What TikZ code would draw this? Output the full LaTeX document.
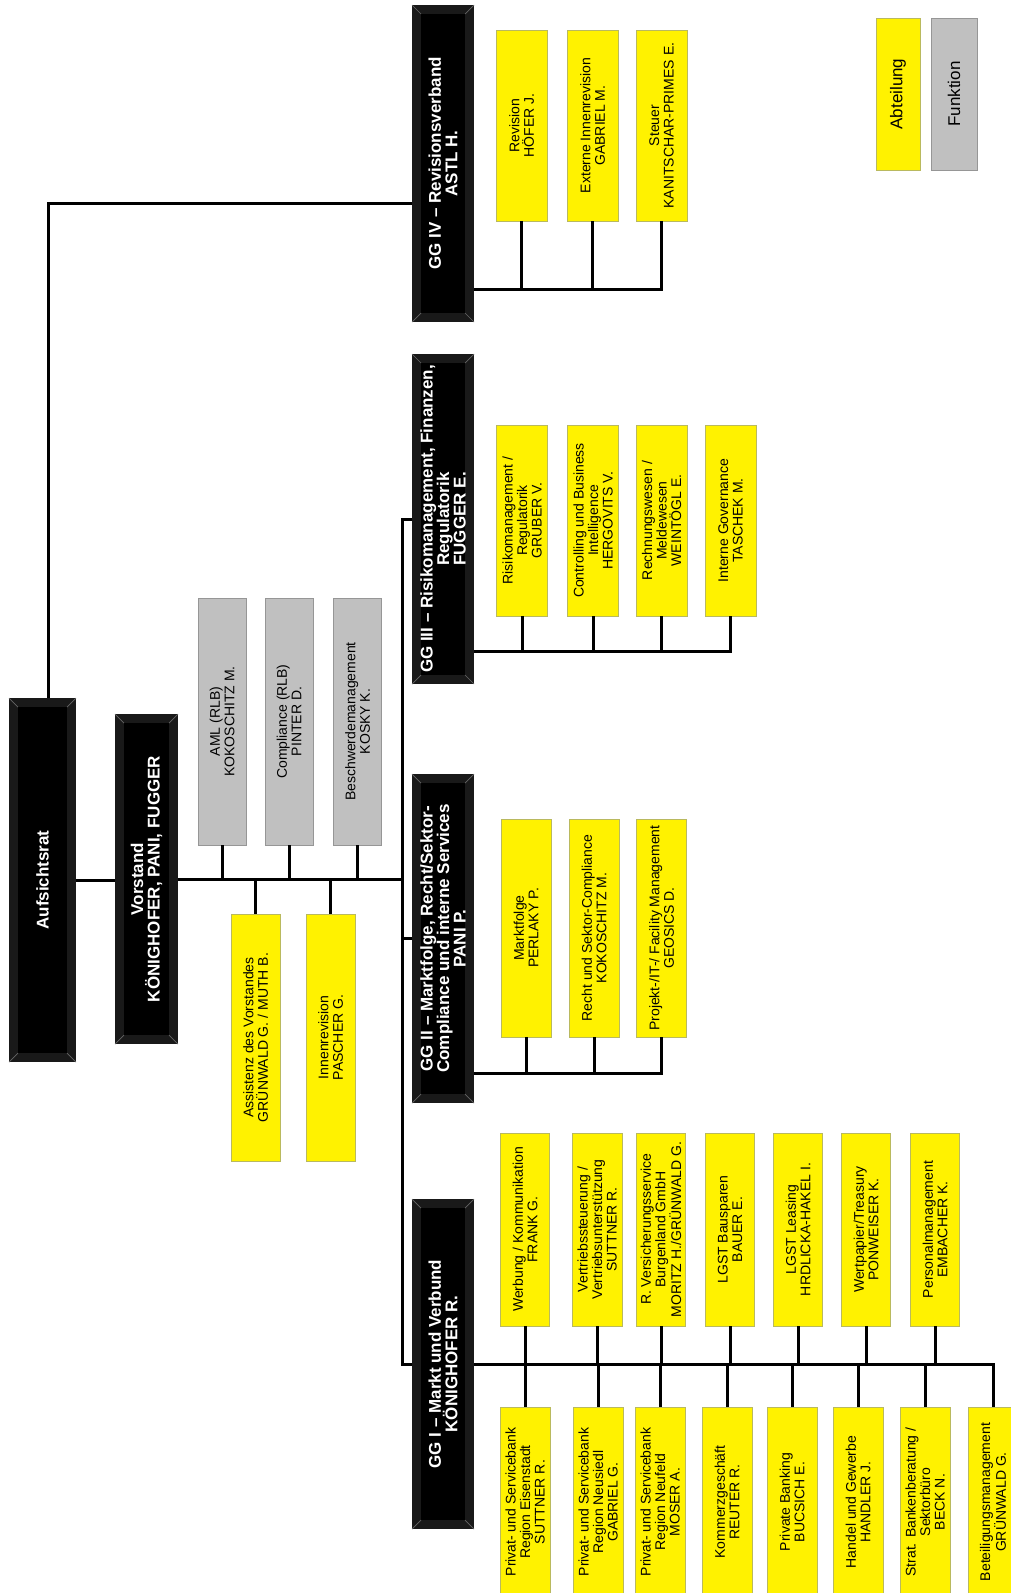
\documentclass[tikz,border=0pt]{standalone}
\usepackage{fontspec}
\setmainfont{Liberation Sans}
\definecolor{abtedge}{RGB}{185,185,95}
\definecolor{fktfill}{RGB}{192,192,192}
\definecolor{fktedge}{RGB}{150,150,150}
\begin{document}
\begin{tikzpicture}[x=1pt,y=-1pt,
  conn/.style={line width=3pt},
  head/.style={rotate=90,fill=black,draw=black!90,line width=9pt,text=white,align=center,inner sep=0pt,
    font=\fontsize{17}{16.5}\selectfont\bfseries},
  bevel/.style={black!60,line width=.7pt},
  abt/.style={rotate=90,fill=yellow,draw=abtedge,line width=.8pt,align=center,inner sep=0pt,
    font=\fontsize{14}{14.5}\selectfont},
  fkt/.style={abt,fill=fktfill,draw=fktedge}]
\useasboundingbox (0,0) rectangle (1011,1593);
\clip (0,0) rectangle (1011,1593);
\node[head,minimum width=355pt,minimum height=58pt] (aufs) at (42.5,880) {Aufsichtsrat};
\node[head,minimum width=321pt,minimum height=54pt] (vorst) at (146.5,879) {Vorstand\\KÖNIGHOFER, PANI, FUGGER};
\node[head,minimum width=308pt,minimum height=53pt] (ggfour) at (443,163.5) {GG IV – Revisionsverband\\ASTL H.};
\node[head,minimum width=321pt,minimum height=53pt] (ggthree) at (443,519) {GG III – Risikomanagement, Finanzen,\\Regulatorik\\FUGGER E.};
\node[head,minimum width=320pt,minimum height=53pt] (ggtwo) at (443,938.5) {GG II – Marktfolge, Recht/Sektor-\\Compliance und interne Services\\PANI P.};
\node[head,minimum width=321pt,minimum height=53pt] (ggone) at (443,1364) {GG I – Markt und Verbund\\KÖNIGHOFER R.};
\foreach \h in {aufs,vorst,ggfour,ggthree,ggtwo,ggone}
  \draw[bevel] (\h.north east) -- ++(9pt,-9pt) (\h.south east) -- ++(-9pt,-9pt)
    (\h.north west) -- ++(9pt,9pt) (\h.south west) -- ++(-9pt,9pt);
\node[abt,minimum width=152pt,minimum height=44pt,font=\fontsize{17}{20}\selectfont] (legabt) at (898,94) {Abteilung};
\node[fkt,minimum width=152pt,minimum height=46pt,font=\fontsize{17}{20}\selectfont] (legfkt) at (954,94) {Funktion};
\node[fkt,minimum width=247pt,minimum height=48pt] (aml) at (222,721.5) {AML (RLB)\\KOKOSCHITZ M.};
\node[fkt,minimum width=247pt,minimum height=48pt] (compl) at (289,721.5) {Compliance (RLB)\\PINTER D.};
\node[fkt,minimum width=247pt,minimum height=48pt] (beschw) at (357.5,721.5) {Beschwerdemanagement\\KOSKY K.};
\node[abt,minimum width=247pt,minimum height=49pt] (assist) at (255.5,1037.5) {Assistenz des Vorstandes\\GRÜNWALD G. / MUTH B.};
\node[abt,minimum width=247pt,minimum height=49pt] (innrev) at (330.5,1037.5) {Innenrevision\\PASCHER G.};
\node[abt,minimum width=191pt,minimum height=51pt] (revision) at (521.5,125.5) {Revision\\HÖFER J.};
\node[abt,minimum width=191pt,minimum height=51pt] (extrev) at (592.5,125.5) {Externe Innenrevision\\GABRIEL M.};
\node[abt,minimum width=191pt,minimum height=51pt] (steuer) at (661.5,125.5) {Steuer\\KANITSCHAR-PRIMES E.};
\node[abt,minimum width=191pt,minimum height=51pt] (risiko) at (522,520.5) {Risikomanagement /\\Regulatorik\\GRUBER V.};
\node[abt,minimum width=191pt,minimum height=51pt] (control) at (593,520.5) {Controlling und Business\\Intelligence\\HERGOVITS V.};
\node[abt,minimum width=191pt,minimum height=51pt] (rechnung) at (661.5,520.5) {Rechnungswesen /\\Meldewesen\\WEINTÖGL E.};
\node[abt,minimum width=191pt,minimum height=51pt] (intgov) at (730.5,520.5) {Interne Governance\\TASCHEK M.};
\node[abt,minimum width=218pt,minimum height=50pt] (marktf) at (526,928) {Marktfolge\\PERLAKY P.};
\node[abt,minimum width=218pt,minimum height=50pt] (recht) at (594,928) {Recht und Sektor-Compliance\\KOKOSCHITZ M.};
\node[abt,minimum width=218pt,minimum height=50pt] (projekt) at (661.5,928) {Projekt-/IT-/ Facility Management\\GEOSICS D.};
\node[abt,minimum width=193pt,minimum height=49pt] (werbung) at (525,1229.5) {Werbung / Kommunikation\\FRANK G.};
\node[abt,minimum width=193pt,minimum height=50pt] (vertrieb) at (597,1229.5) {Vertriebssteuerung /\\Vertriebsunterstützung\\SUTTNER R.};
\node[abt,minimum width=193pt,minimum height=49pt] (versich) at (661,1229.5) {R. Versicherungsservice\\Burgenland GmbH\\MORITZ H./GRÜNWALD G.};
\node[abt,minimum width=193pt,minimum height=49pt] (bauspar) at (730,1229.5) {LGST Bausparen\\BAUER E.};
\node[abt,minimum width=193pt,minimum height=49pt] (leasing) at (798,1229.5) {LGST Leasing\\HRDLICKA-HAKEL I.};
\node[abt,minimum width=193pt,minimum height=49pt] (wertpap) at (866,1229.5) {Wertpapier/Treasury\\PONWEISER K.};
\node[abt,minimum width=193pt,minimum height=49pt] (personal) at (935,1229.5) {Personalmanagement\\EMBACHER K.};
\node[abt,minimum width=190pt,minimum height=50pt] (priveis) at (525,1502) {Privat- und Servicebank\\Region Eisenstadt\\SUTTNER R.};
\node[abt,minimum width=190pt,minimum height=50pt] (privneu) at (598,1502) {Privat- und Servicebank\\Region Neusiedl\\GABRIEL G.};
\node[abt,minimum width=190pt,minimum height=50pt] (privnf) at (660,1502) {Privat- und Servicebank\\Region Neufeld\\MOSER A.};
\node[abt,minimum width=190pt,minimum height=50pt] (kommerz) at (727,1502) {Kommerzgeschäft\\REUTER R.};
\node[abt,minimum width=190pt,minimum height=50pt] (privbank) at (792,1502) {Private Banking\\BUCSICH E.};
\node[abt,minimum width=190pt,minimum height=50pt] (handel) at (858,1502) {Handel und Gewerbe\\HANDLER J.};
\node[abt,minimum width=190pt,minimum height=50pt] (strat) at (925,1502) {Strat. Bankenberatung /\\Sektorbüro\\BECK N.};
\node[abt,minimum width=190pt,minimum height=50pt] (beteil) at (993,1502) {Beteiligungsmanagement\\GRÜNWALD G.};
\coordinate (aufsbend) at (48,203);
\coordinate (spine) at (402,1364);
\coordinate (busfour) at (474,289);
\coordinate (busthree) at (474,651);
\coordinate (bustwo) at (474,1073);
\draw[conn] (aufs.east -| aufsbend) -- (aufsbend) -- (aufsbend -| ggfour.north);
\draw[conn] (aufs.south) -- (aufs.south -| vorst.north);
\draw[conn] (vorst.south) -- (vorst.south -| spine);
\draw[conn] (ggthree.north) -| (spine) -- (ggone.north);
\draw[conn] (ggtwo.north) -- (ggtwo.north -| spine);
\draw[conn] (ggone.south) -| (beteil.east);
\foreach \b in {aml,compl,beschw} \draw[conn] (\b.west) -- (\b.west |- vorst.south);
\foreach \b in {assist,innrev} \draw[conn] (\b.east) -- (\b.east |- vorst.south);
\draw[conn] (busfour) -| (steuer.west);
\foreach \b in {revision,extrev} \draw[conn] (\b.west) -- (\b.west |- busfour);
\draw[conn] (busthree) -| (intgov.west);
\foreach \b in {risiko,control,rechnung} \draw[conn] (\b.west) -- (\b.west |- busthree);
\draw[conn] (bustwo) -| (projekt.west);
\foreach \b in {marktf,recht} \draw[conn] (\b.west) -- (\b.west |- bustwo);
\foreach \b in {werbung,vertrieb,versich,bauspar,leasing,wertpap,personal} \draw[conn] (\b.west) -- (\b.west |- spine);
\foreach \b in {priveis,privneu,privnf,kommerz,privbank,handel,strat} \draw[conn] (\b.east) -- (\b.east |- spine);
\end{tikzpicture}
\end{document}
